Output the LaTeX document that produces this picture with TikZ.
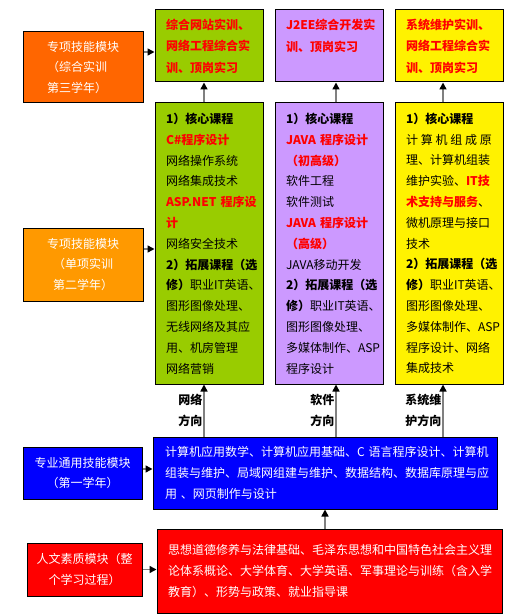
\documentclass[tikz,border=0pt]{standalone}
\usepackage{fontspec}
\setmainfont{Noto Sans CJK SC}
\usepackage{tikz}
\usetikzlibrary{arrows.meta}
\usepackage{xcolor}
\definecolor{deeporange}{HTML}{FF6600}
\definecolor{lightorange}{HTML}{FF9900}
\definecolor{leafgreen}{HTML}{99CC00}
\definecolor{lilac}{HTML}{CC99FF}
\newcommand{\redb}[1]{\textcolor{red}{\textbf{#1}}}

\begin{document}
\begin{tikzpicture}[
    x=1pt, y=-1pt,
    font=\fontsize{12pt}{20.8pt}\selectfont,
    side/.style={rectangle, draw=black, line width=1pt, text=white, align=center, inner sep=0pt},
    course/.style={rectangle, draw=black, line width=1pt, align=left, inner xsep=11pt, inner ysep=0pt, text width=86pt, minimum width=108pt},
    title/.style={course, text=red, font=\fontsize{12pt}{21.5pt}\selectfont\bfseries, minimum height=72pt},
    base/.style={rectangle, draw=black, line width=1pt, text=white, align=left, inner ysep=0pt},
    dir_label/.style={font=\fontsize{12pt}{21pt}\selectfont\bfseries, align=left, inner sep=1pt},
    edge_style/.style={draw=gray, line width=1.5pt, -{Triangle[length=7pt, width=7pt, color=black]}}
]
\useasboundingbox (0, 0) rectangle (529, 615);

% Left column: modules
\node[side, fill=deeporange, minimum width=120pt, minimum height=71pt, text width=72pt, align=left] (o3) at (83, 67.5) {专项技能模块\\（综合实训\\第三学年）};
\node[side, fill=lightorange, minimum width=120pt, minimum height=73pt] (o2) at (83, 264.5) {专项技能模块\\（单项实训\\第二学年）};
\node[side, fill=blue, minimum width=119pt, minimum height=52pt] (b1) at (82.5, 473) {专业通用技能模块\\（第一学年）};
\node[side, fill=red, minimum width=115pt, minimum height=53pt] (r1) at (84.5, 569.5) {人文素质模块（整\\个学习过程）};

% Top row: practical training
\node[title, fill=leafgreen] (g3) at (209, 46) {综合网站实训、\\网络工程综合实\\训、顶岗实习};
\node[title, fill=lilac] (p3) at (329, 46) {J2EE综合开发实\\训、顶岗实习\\~};
\node[title, fill=yellow] (y3) at (449, 46) {系统维护实训、\\网络工程综合实\\训、顶岗实习};

% Middle row: courses per direction
\node[course, fill=leafgreen, minimum height=281pt] (g2) at (209, 243.5) {\textbf{1）核心课程}\\
\redb{C\#程序设计}\\
网络操作系统\\
网络集成技术\\
\redb{ASP.NET~程序设}\\
\redb{计}\\
网络安全技术\\
\textbf{2）拓展课程（选}\\
\textbf{修）}职业IT英语、\\
图形图像处理、\\
无线网络及其应\\
用、机房管理\\
网络营销};
\node[course, fill=lilac, minimum height=281pt] (p2) at (329, 243.5) {\textbf{1）核心课程}\\
\redb{JAVA~程序设计}\\
\redb{（初高级）}\\
软件工程\\
软件测试\\
\redb{JAVA~程序设计}\\
\redb{（高级）}\\
JAVA移动开发\\
\textbf{2）拓展课程（选}\\
\textbf{修）}职业IT英语、\\
图形图像处理、\\
多媒体制作、ASP\\
程序设计};
\node[course, fill=yellow, minimum height=281pt] (y2) at (449, 243.5) {\textbf{1）核心课程}\\
\makebox[86pt][s]{计\hfill 算\hfill 机\hfill 组\hfill 成\hfill 原}\\
理、计算机组装\\
维护实验、\redb{IT技}\\
\redb{术支持与服务}、\\
微机原理与接口\\
技术\\
\textbf{2）拓展课程（选}\\
\textbf{修）}职业IT英语、\\
图形图像处理、\\
多媒体制作、ASP\\
程序设计、网络\\
集成技术};

% Bottom rows: common courses
\node[base, fill=blue, inner xsep=12pt, text width=320pt, minimum width=344pt, minimum height=72pt] (blue) at (325, 473) {计算机应用数学、计算机应用基础、C~语言程序设计、计算机\\组装与维护、局域网组建与维护、数据结构、数据库原理与应\\用~、网页制作与设计};
\node[base, fill=red, inner xsep=11pt, text width=323pt, minimum width=345pt, minimum height=84pt] (red) at (329.5, 571) {思想道德修养与法律基础、毛泽东思想和中国特色社会主义理\\论体系概论、大学体育、大学英语、军事理论与训练（含入学\\教育）、形势与政策、就业指导课};

% Connections
\draw[edge_style] ([yshift=-6pt]o3.east |- g3.west) -- ([yshift=-6pt]g3.west);
\draw[edge_style] ([yshift=-5.5pt]o2.east |- g2.west) -- ([yshift=-5.5pt]g2.west);
\draw[edge_style] ([yshift=4pt]b1.east) -- ([yshift=4pt]b1.east -| blue.west);
\draw[edge_style] (r1.east) -- (r1.east -| red.west);
\draw[edge_style] ([xshift=-5pt]g2.north) -- ([xshift=-5pt]g3.south);
\draw[edge_style] ([xshift=7pt]p2.north) -- ([xshift=7pt]p3.south);
\draw[edge_style] ([xshift=-6pt]y2.north) -- ([xshift=-6pt]y3.south);
\draw[edge_style] ([xshift=-5pt]g2.south |- blue.north) -- node[dir_label, left] (l_net) {网络\\方向} ([xshift=-5pt]g2.south);
\draw[edge_style] ([xshift=7pt]p2.south |- blue.north) -- node[dir_label, left] (l_soft) {软件\\方向} ([xshift=7pt]p2.south);
\draw[edge_style] ([xshift=-6pt]y2.south |- blue.north) -- node[dir_label, left] (l_sys) {系统维\\护方向} ([xshift=-6pt]y2.south);
\draw[edge_style] (blue.south |- red.north) -- (blue.south);

\end{tikzpicture}
\end{document}
